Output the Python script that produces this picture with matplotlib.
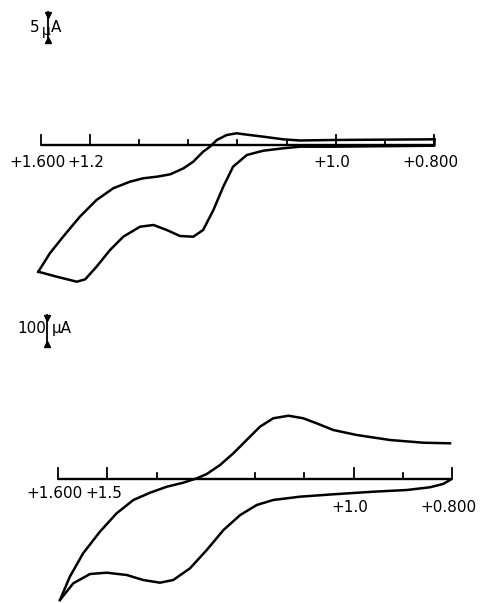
import matplotlib.pyplot as plt

# potentials in V, currents in uA
# top trace, 5 uA scale
top_fwd_E = [0.799, 1.005, 1.073, 1.107, 1.147, 1.175, 1.202, 1.222, 1.242, 1.256,
             1.270, 1.290, 1.310, 1.337, 1.364, 1.392, 1.419, 1.453, 1.487, 1.521,
             1.555, 1.582, 1.6055]
top_fwd_I = [0.92, 0.81, 0.73, 0.92, 1.34, 1.61, 1.89, 1.61, 0.81, -0.27,
             -1.08, -2.69, -3.76, -4.73, -5.11, -5.37, -5.92, -6.98, -8.87, -11.57,
             -14.79, -17.47, -20.44]
top_rev_E = [1.6055, 1.568, 1.527, 1.510, 1.487, 1.4595, 1.4325, 1.3985, 1.371, 1.344,
             1.317, 1.290, 1.270, 1.249, 1.229, 1.209, 1.181, 1.1475, 1.107, 1.073,
             1.005, 0.799, 0.799]
top_rev_I = [-20.44, -21.24, -22.05, -21.66, -19.63, -16.94, -14.79, -13.18, -12.90, -13.71,
             -14.68, -14.79, -13.71, -10.48, -6.73, -3.50, -1.61, -0.92, -0.53, -0.27,
             -0.27, -0.11, 0.92]

# bottom trace, 100 uA scale
bot_fwd_E = [0.804, 0.858, 0.926, 0.9935, 1.041, 1.075, 1.102, 1.132, 1.163, 1.190,
             1.217, 1.244, 1.271, 1.298, 1.318, 1.346, 1.379, 1.413, 1.447, 1.481,
             1.515, 1.549, 1.576, 1.596]
bot_fwd_I = [111.6, 113.4, 121.9, 137.5, 153.1, 174.1, 189.7, 197.8, 189.7, 163.4,
             121.9, 80.3, 43.75, 15.6, 2.2, -11.6, -24.1, -42.8, -65.6, -107.2,
             -164.7, -232.2, -305.3, -378.1]
bot_rev_E = [1.596, 1.569, 1.535, 1.501, 1.4605, 1.427, 1.393, 1.366, 1.332, 1.298,
             1.264, 1.230, 1.1965, 1.163, 1.109, 1.041, 0.960, 0.892, 0.845, 0.818,
             0.804]
bot_rev_I = [-378.1, -325.9, -296.9, -292.8, -300.0, -315.6, -324.1, -315.6, -279.1, -221.9,
             -159.4, -112.5, -81.25, -65.6, -55.3, -47.8, -39.7, -34.4, -25.9, -15.6,
             -3.1]

tick_E = [1.6, 1.5, 1.4, 1.3, 1.2, 1.1, 1.0, 0.9, 0.8]
top_labels = {1.6: '+1.600', 1.5: '+1.2', 1.0: '+1.0', 0.8: '+0.800'}
bot_labels = {1.6: '+1.600', 1.5: '+1.5', 1.0: '+1.0', 0.8: '+0.800'}

fig = plt.figure(figsize=(4.88, 6.03), dpi=100)
ax1 = fig.add_axes([0, 303 / 603, 1, 300 / 603])
ax2 = fig.add_axes([0, 0, 1, 303 / 603])

lw = 1.8


def draw_axis(ax, big, long_t, short_t, skip=()):
    ax.plot([1.6, 0.8], [0, 0], color='black', lw=1.7, solid_capstyle='butt')
    for e in tick_E:
        if e in skip:
            continue
        h = long_t if e in big else short_t
        ax.plot([e, e], [0, h], color='black', lw=1.3)


# top panel
ax1.set_xlim(1.6835, 0.690)
ax1.set_ylim(-25.0, 23.39)
draw_axis(ax1, (1.6, 1.5, 1.0, 0.8), 1.6, 0.8)
ax1.plot(top_fwd_E, top_fwd_I, color='black', lw=lw, solid_joinstyle='round')
ax1.plot(top_rev_E, top_rev_I, color='black', lw=lw, solid_joinstyle='round')
for e, s in top_labels.items():
    ax1.text(e + 0.008, -2.75, s, ha='center', va='center', fontsize=11)
# 5 uA scale marker
ax1.plot([1.586, 1.586], [16.45, 21.45], color='black', lw=1.3)
ax1.plot([1.586], [21.0], marker='v', color='black', ms=5)
ax1.plot([1.586], [16.9], marker='^', color='black', ms=5)
ax1.text(1.604, 19.0, '5', ha='right', va='center', fontsize=11)
ax1.text(1.590, 18.4, 'µ', ha='center', va='center', fontsize=10)
ax1.text(1.5796, 19.0, 'A', ha='left', va='center', fontsize=11)

# bottom panel
ax2.set_xlim(1.7178, 0.7269)
ax2.set_ylim(-387.5, 559.4)
draw_axis(ax2, (1.6, 1.5, 1.0, 0.8), 35, 19, skip=(1.3,))
ax2.plot(bot_fwd_E, bot_fwd_I, color='black', lw=lw, solid_joinstyle='round')
ax2.plot(bot_rev_E, bot_rev_I, color='black', lw=lw, solid_joinstyle='round')
for e, s in bot_labels.items():
    y = -44.8 if e > 1.4 else -88.5
    ax2.text(e + 0.008, y, s, ha='center', va='center', fontsize=11)
# 100 uA scale marker
ax2.plot([1.622, 1.622], [412.5, 512.5], color='black', lw=1.3)
ax2.plot([1.622], [503], marker='v', color='black', ms=5)
ax2.plot([1.622], [421], marker='^', color='black', ms=5)
ax2.text(1.624, 470, '100', ha='right', va='center', fontsize=11)
ax2.text(1.612, 470, 'µA', ha='left', va='center', fontsize=11)

for ax in (ax1, ax2):
    ax.axis('off')

fig.savefig('out.png', dpi=100, facecolor='white')
